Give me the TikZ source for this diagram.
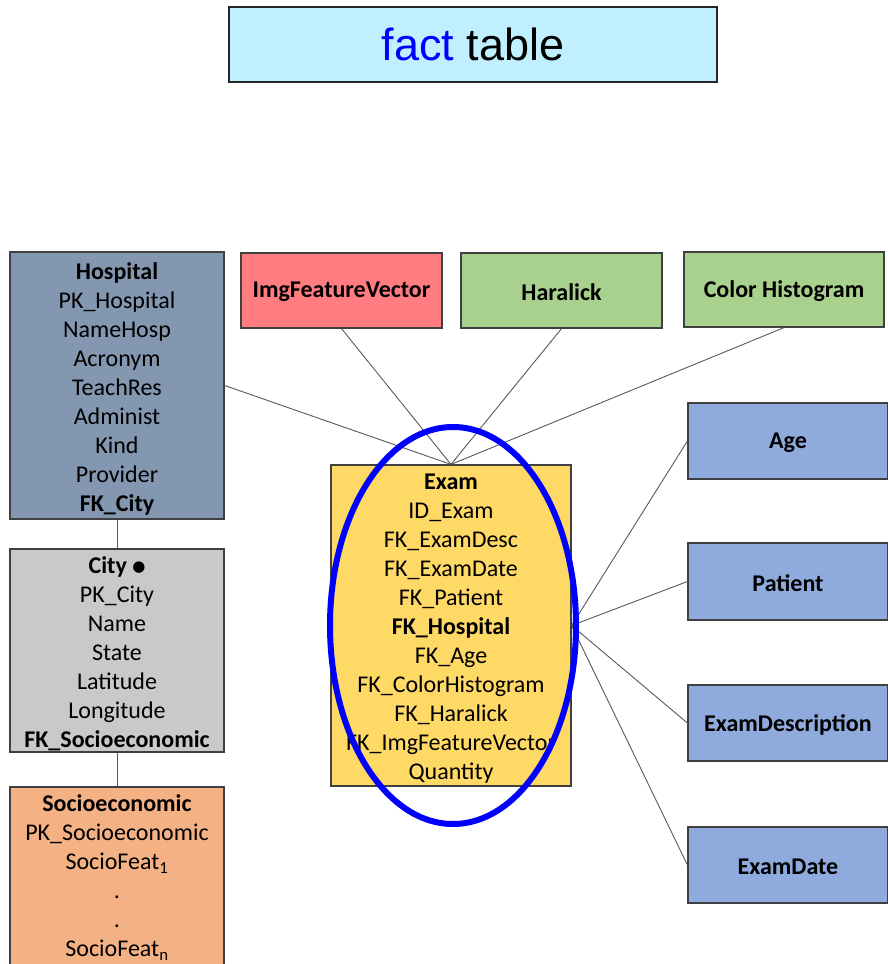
\documentclass[tikz,border=0pt]{standalone}
\usepackage{fontspec}
\setmainfont{Carlito}
\newfontfamily\titlefont{Liberation Sans}
\newfontfamily\symfont{DejaVu Sans}

\definecolor{hospfill}{HTML}{8497B0}
\definecolor{cityfill}{HTML}{C9C9C9}
\definecolor{sociofill}{HTML}{F4B183}
\definecolor{imgfill}{HTML}{FF7C80}
\definecolor{texfill}{HTML}{A9D18E}
\definecolor{examfill}{HTML}{FFD966}
\definecolor{dimfill}{HTML}{8FAADC}
\definecolor{titlefill}{HTML}{C0F0FF}
\definecolor{edge}{HTML}{404040}
\definecolor{link}{HTML}{595959}
\definecolor{ringblue}{HTML}{0000FF}

\newcommand\entfont{\fontsize{24}{29}\selectfont}

\tikzset{
  table/.style={draw=edge, line width=1.2pt, inner sep=0pt},
  tabtext/.style={inner sep=0pt, align=center, font=\entfont, text=black, yshift=-3pt},
  dimtext/.style={tabtext, font=\entfont\bfseries, yshift=1.5pt},
  connector/.style={draw=link, line width=0.9pt},
}

\begin{document}
\begin{tikzpicture}[x=1pt, y=-1pt]
  \useasboundingbox (0,0) rectangle (887,964);

  % heading
  \node[draw=black!85, line width=1.8pt, fill=titlefill, minimum width=488pt,
        minimum height=75pt, font=\titlefont\fontsize{45}{50}\selectfont]
        (title) at (473,44.5) {\textcolor{ringblue}{fact} table};

  % snowflake branch: hospital -> city -> socioeconomic
  \node[table, fill=hospfill, minimum width=214pt, minimum height=267pt,
    label={[tabtext]center:{\textbf{Hospital}\\PK\_Hospital\\NameHosp\\Acronym\\TeachRes\\Administ\\Kind\\Provider\\\textbf{FK\_City}}}]
    (hosp) at (117,385.5) {};
  \node[table, fill=cityfill, minimum width=214pt, minimum height=203pt,
    label={[tabtext]center:{\textbf{City} \raisebox{2pt}{\symfont\fontsize{15}{29}\selectfont ●}\\PK\_City\\Name\\State\\Latitude\\Longitude\\\textbf{FK\_Socioeconomic}}}]
    (city) at (117,650.5) {};
  \node[table, fill=sociofill, minimum width=214pt, minimum height=179pt,
    label={[tabtext, yshift=2pt]center:{\textbf{Socioeconomic}\\PK\_Socioeconomic\\SocioFeat\textsubscript{1}\\.\\.\\SocioFeat\textsubscript{n}}}]
    (socio) at (117,876.5) {};

  % image feature dimensions
  \node[table, fill=imgfill, minimum width=201pt, minimum height=75pt,
    label={[dimtext]center:ImgFeatureVector}] (img) at (341.5,290.5) {};
  \node[table, fill=texfill, minimum width=201pt, minimum height=75pt,
    label={[dimtext]center:Haralick}] (haralick) at (561.5,290.5) {};
  \node[table, fill=texfill, minimum width=200pt, minimum height=75pt,
    label={[dimtext]center:Color Histogram}] (colorhist) at (784,289.5) {};

  % fact table
  \node[table, fill=examfill, minimum width=240pt, minimum height=321pt,
    label={[tabtext]center:{\textbf{Exam}\\ID\_Exam\\FK\_ExamDesc\\FK\_ExamDate\\FK\_Patient\\\textbf{FK\_Hospital}\\FK\_Age\\FK\_ColorHistogram\\FK\_Haralick\\FK\_ImgFeatureVector\\Quantity}}]
    (exam) at (451,625.5) {};

  % right-hand dimensions
  \node[table, fill=dimfill, minimum width=200pt, minimum height=76pt,
    label={[dimtext]center:Age}] (age) at (788,441) {};
  \node[table, fill=dimfill, minimum width=200pt, minimum height=77pt,
    label={[dimtext]center:Patient}] (patient) at (788,581.5) {};
  \node[table, fill=dimfill, minimum width=200pt, minimum height=76pt,
    label={[dimtext]center:ExamDescription}] (examdesc) at (788,723) {};
  \node[table, fill=dimfill, minimum width=200pt, minimum height=76pt,
    label={[dimtext]center:ExamDate}] (examdate) at (788,865) {};

  % relationships
  \draw[connector] (hosp.south) -- (city.north);
  \draw[connector] (city.south) -- (socio.north);
  \draw[connector] (hosp.east) -- (exam.north);
  \draw[connector] (img.south) -- (exam.north);
  \draw[connector] (haralick.south) -- (exam.north);
  \draw[connector] (colorhist.south) -- (exam.north);
  \draw[connector] (exam.east) -- (age.west);
  \draw[connector] (exam.east) -- (patient.west);
  \draw[connector] (exam.east) -- (examdesc.west);
  \draw[connector] (exam.east) -- (examdate.west);

  % highlight ring around the fact table
  \draw[ringblue, line width=6pt] (453,625.5) ellipse [x radius=123pt, y radius=198.5pt];
\end{tikzpicture}
\end{document}
